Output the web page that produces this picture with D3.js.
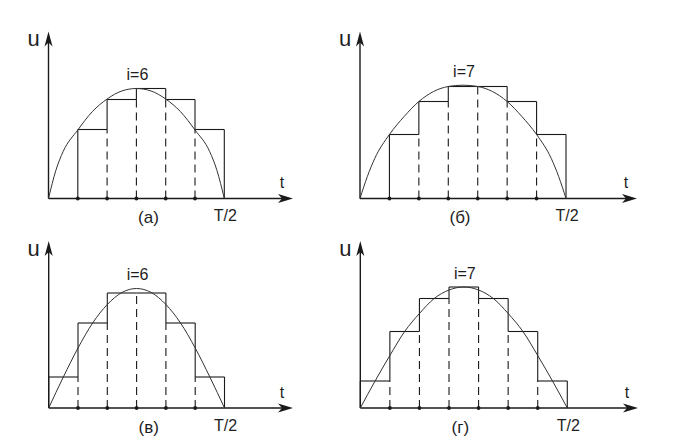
<!DOCTYPE html>
<html>
<head>
<meta charset="utf-8">
<script src="https://cdn.jsdelivr.net/npm/d3@7/dist/d3.min.js"></script>
<style>
  html, body { margin: 0; padding: 0; background: #fff; }
  svg { display: block; }
  text { font-family: "Liberation Sans", Arial, sans-serif; fill: #1e1e1e; }
</style>
</head>
<body>
<svg id="chart" width="689" height="443"></svg>
<script>
// ---------- data ----------
const panelLabels = ["(а)", "(б)", "(в)", "(г)"];
const sampleLabels = ["i=6", "i=7", "i=6", "i=7"];
const intervalCounts = [6, 7, 6, 7];
const uLabel = "u";
const tLabel = "t";
const endLabel = "T/2";

// step heights, one per interval [k, k+1]
const stepsA = [0, 0.69, 0.99, 1.10, 0.99, 0.69];
const stepsB = [0, 0.64, 0.97, 1.12, 1.12, 0.97, 0.64];
const stepsC = [0.31, 0.85, 1.15, 1.15, 0.85, 0.31];
const stepsD = [0.27, 0.765, 1.095, 1.21, 1.095, 0.765, 0.27];

// continuous curve samples (t in interval units, u value)
const curveTA = [0, 0.25, 0.5, 1, 1.5, 2, 2.5, 3, 3.5, 4, 4.5, 5, 5.5, 5.75, 6];
const curveUA = [0, 0.28, 0.47, 0.685, 0.87, 0.995, 1.075, 1.10, 1.075, 0.995, 0.87, 0.685, 0.47, 0.28, 0];
const curveTB = [0, 0.25, 0.5, 1, 1.5, 2, 2.5, 3, 3.5, 4, 4.5, 5, 5.5, 6, 6.5, 6.75, 7];
const curveUB = [0, 0.22, 0.40, 0.64, 0.82, 0.97, 1.07, 1.12, 1.133, 1.12, 1.07, 0.97, 0.82, 0.64, 0.40, 0.22, 0];
const curveTC = [0, 0.5, 1, 1.5, 2, 2.5, 3, 3.5, 4, 4.5, 5, 5.5, 6];
const curveUC = [0, 0.31, 0.60, 0.85, 1.035, 1.155, 1.195, 1.155, 1.035, 0.85, 0.60, 0.31, 0];
const curveTD = [0, 0.5, 1, 1.5, 2, 2.5, 3, 3.5, 4, 4.5, 5, 5.5, 6, 6.5, 7];
const curveUD = [0, 0.27, 0.525, 0.765, 0.945, 1.095, 1.18, 1.21, 1.18, 1.095, 0.945, 0.765, 0.525, 0.27, 0];

const stepsAll = [stepsA, stepsB, stepsC, stepsD];
const curveTAll = [curveTA, curveTB, curveTC, curveTD];
const curveUAll = [curveUA, curveUB, curveUC, curveUD];

// ---------- layout ----------
const layout = [
  { x0: 48.5, y0: 198.5, dx: 29.3,  xTip: 293, yTip: 31.5 },
  { x0: 360,  y0: 198.5, dx: 29.43, xTip: 637, yTip: 31.5 },
  { x0: 48.7, y0: 408,   dx: 29.3,  xTip: 293, yTip: 241 },
  { x0: 360.3,y0: 408,   dx: 29.57, xTip: 638, yTip: 241 }
];

const svg = d3.select("#chart");
const INK = "#1a1a1a";

layout.forEach((L, p) => {
  const n = intervalCounts[p];
  const steps = stepsAll[p];
  const x = d3.scaleLinear().domain([0, n]).range([L.x0, L.x0 + n * L.dx]);
  const y = d3.scaleLinear().domain([0, 1]).range([L.y0, L.y0 - 100]);
  const g = svg.append("g");

  // axes
  g.append("line").attr("x1", L.x0).attr("y1", L.y0).attr("x2", L.xTip - 10).attr("y2", L.y0)
    .attr("stroke", INK).attr("stroke-width", 1.4);
  g.append("line").attr("x1", L.x0).attr("y1", L.y0).attr("x2", L.x0).attr("y2", L.yTip + 10)
    .attr("stroke", INK).attr("stroke-width", 1.4);
  // arrowheads
  g.append("path")
    .attr("d", `M${L.xTip},${L.y0} L${L.xTip - 15},${L.y0 - 4.5} L${L.xTip - 11},${L.y0} L${L.xTip - 15},${L.y0 + 4.5} Z`)
    .attr("fill", INK);
  g.append("path")
    .attr("d", `M${L.x0},${L.yTip} L${L.x0 - 4},${L.yTip + 15} L${L.x0},${L.yTip + 11} L${L.x0 + 4},${L.yTip + 15} Z`)
    .attr("fill", INK);

  // dashed verticals and solid risers
  for (let k = 0; k <= n; k++) {
    const left = k === 0 ? 0 : steps[k - 1];
    const right = k === n ? 0 : steps[k];
    const lo = Math.min(left, right), hi = Math.max(left, right);
    if (k > 0 && k < n && lo > 0) {
      g.append("line").attr("x1", x(k)).attr("x2", x(k)).attr("y1", y(0)).attr("y2", y(lo))
        .attr("stroke", INK).attr("stroke-width", 1.1).attr("stroke-dasharray", "8,5");
    }
    if (hi - lo > 0.001) {
      g.append("line").attr("x1", x(k)).attr("x2", x(k)).attr("y1", y(lo)).attr("y2", y(hi))
        .attr("stroke", INK).attr("stroke-width", 1.1);
    }
  }
  // horizontal step tops
  steps.forEach((h, k) => {
    if (h > 0) {
      g.append("line").attr("x1", x(k)).attr("x2", x(k + 1)).attr("y1", y(h)).attr("y2", y(h))
        .attr("stroke", INK).attr("stroke-width", 1.1);
    }
  });

  // curve
  const pts = curveTAll[p].map((t, i) => [t, curveUAll[p][i]]);
  const line = d3.line().x(d => x(d[0])).y(d => y(d[1])).curve(d3.curveMonotoneX);
  g.append("path").attr("d", line(pts)).attr("fill", "none")
    .attr("stroke", "#333").attr("stroke-width", 1);

  // tick dots
  d3.range(1, n).forEach(k => {
    g.append("circle").attr("cx", x(k)).attr("cy", L.y0).attr("r", 1.9).attr("fill", INK);
  });

  // labels
  g.append("text").attr("x", L.x0 - 15).attr("y", L.y0 - 152.5).attr("text-anchor", "middle")
    .attr("font-size", 22).text(uLabel);
  g.append("text").attr("x", L.xTip - 11).attr("y", L.y0 - 10.5).attr("text-anchor", "middle")
    .attr("font-size", 16).text(tLabel);
  g.append("text").attr("x", x(n) + 1).attr("y", L.y0 + 22.5).attr("text-anchor", "middle")
    .attr("font-size", 16).text(endLabel);
  g.append("text").attr("x", L.x0 + 100).attr("y", L.y0 + 24.5).attr("text-anchor", "middle")
    .attr("font-size", 17).text(panelLabels[p]);
  const peak = d3.max(curveUAll[p]);
  g.append("text").attr("x", x(n / 2) + 1).attr("y", y(peak) - 8.5).attr("text-anchor", "middle")
    .attr("font-size", 16).text(sampleLabels[p]);
});
</script>
</body>
</html>
